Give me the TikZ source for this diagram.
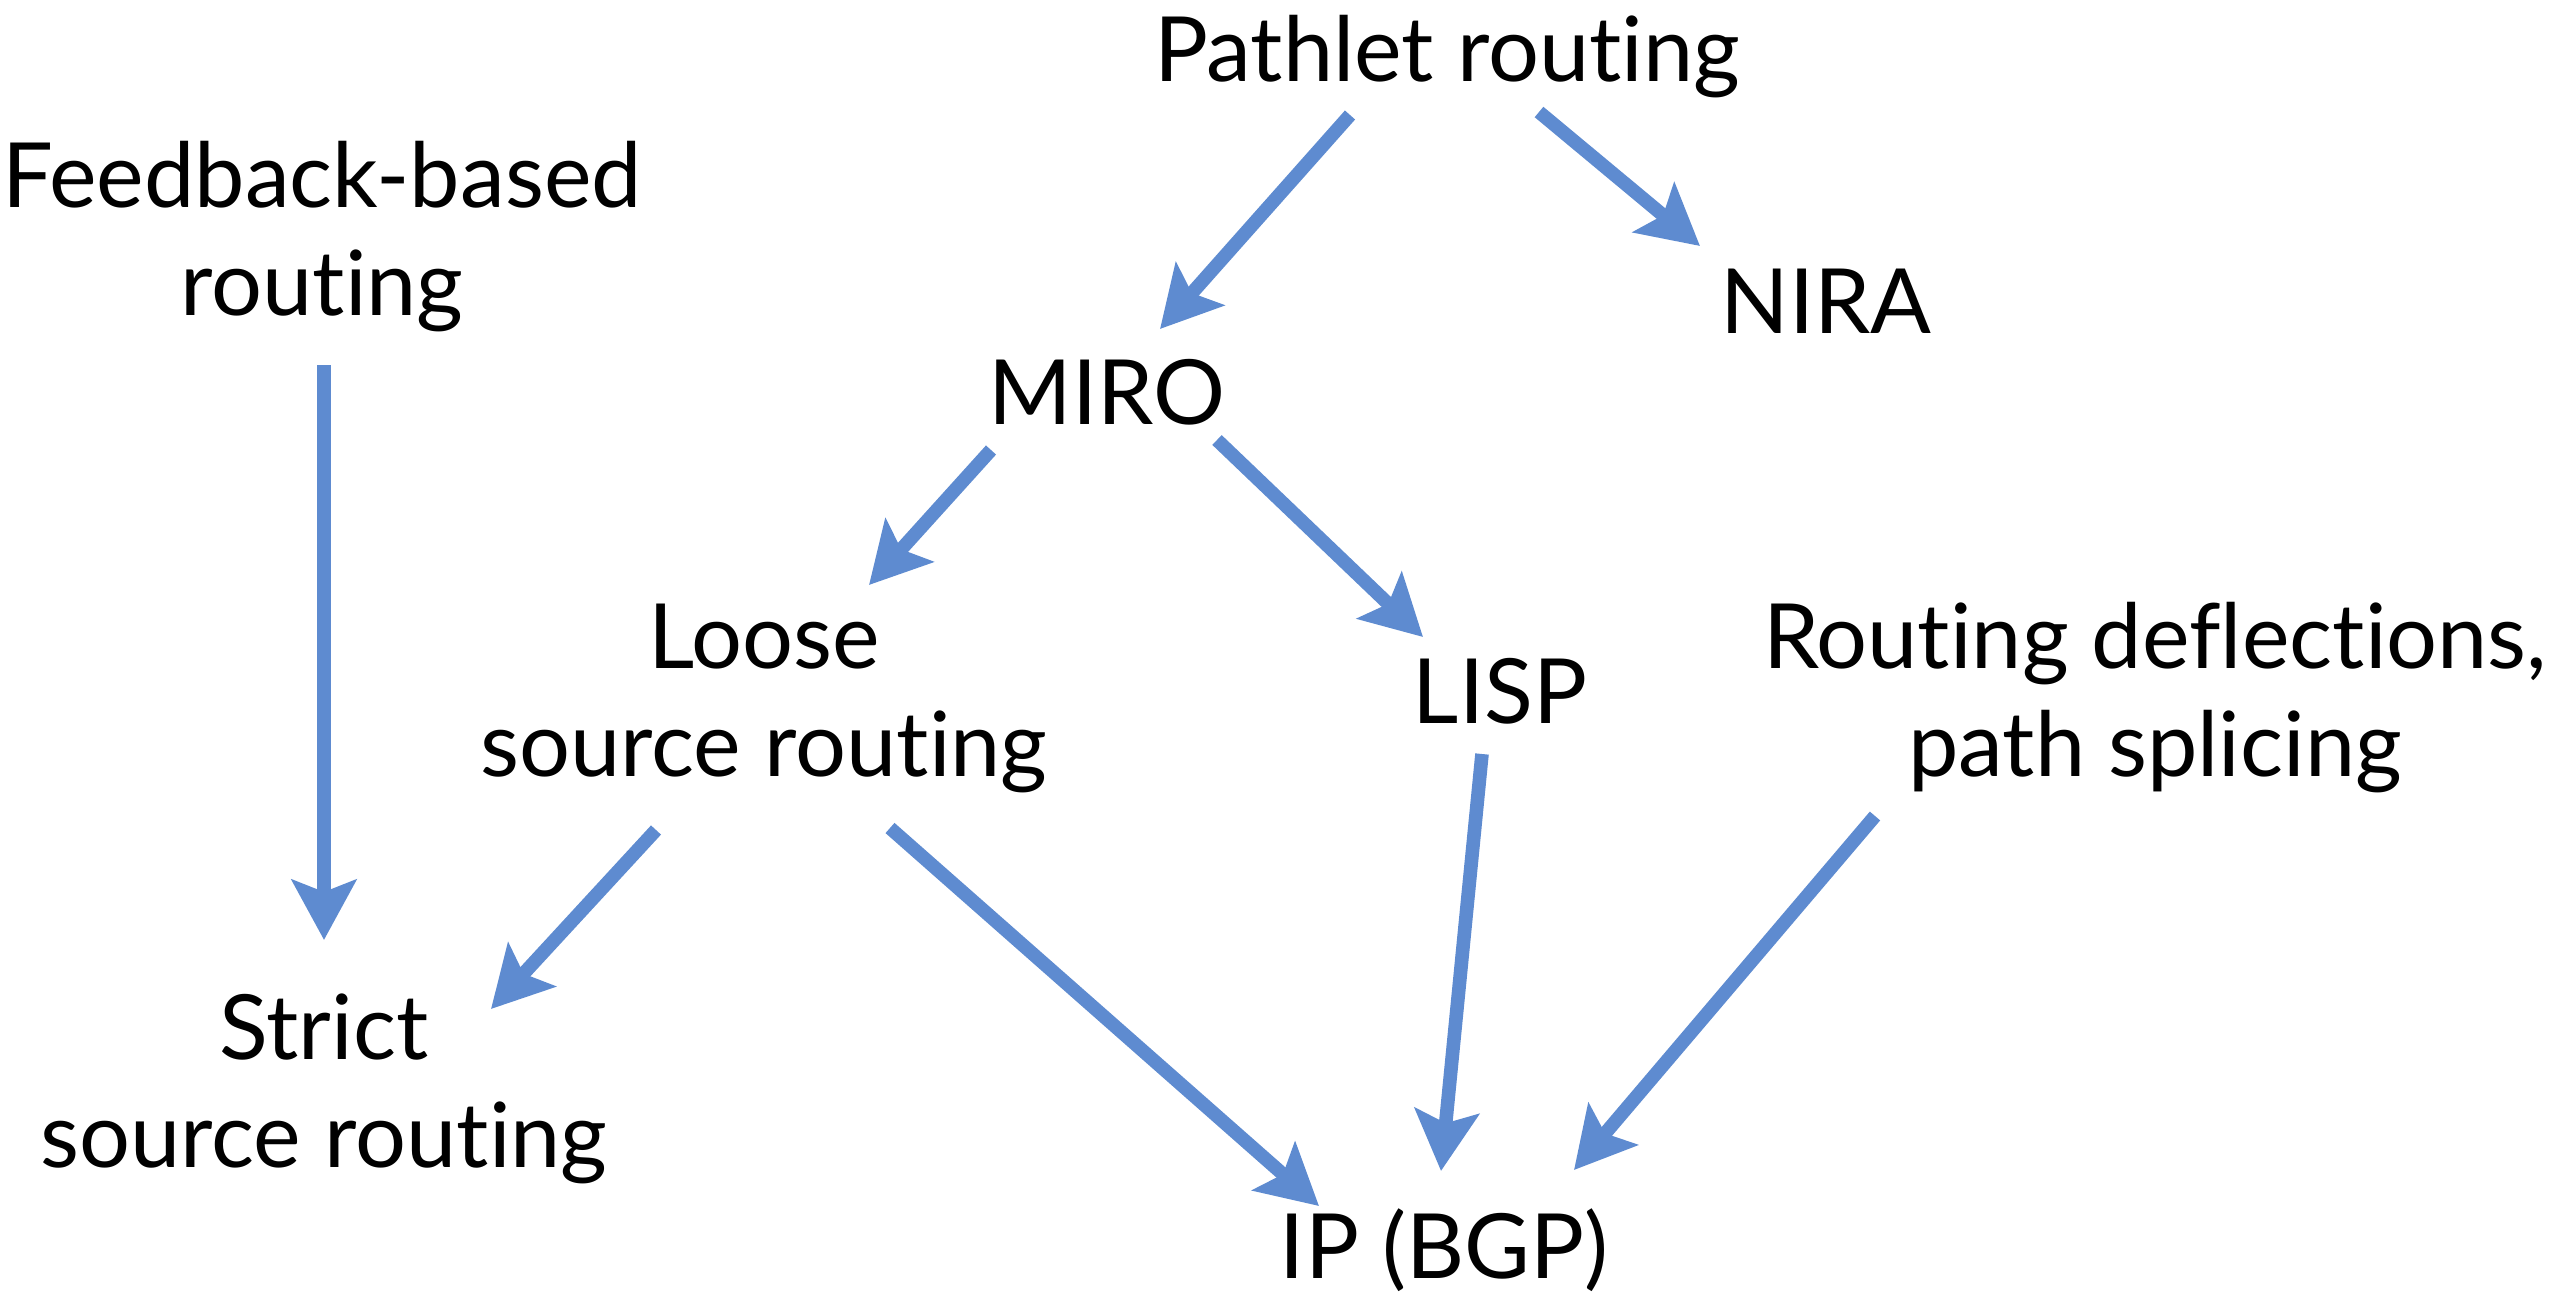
\documentclass[tikz,border=0pt]{standalone}
\usepackage{fontspec}
\setmainfont{Lato}[Ligatures={NoCommon,NoRequired,NoContextual}]
\usetikzlibrary{arrows.meta}
\definecolor{arrowblue}{RGB}{94,139,208}
\begin{document}
\begin{tikzpicture}[x=0.5pt,y=-0.5pt,
  lbl/.style={font=\fontsize{45}{54}\selectfont, align=center, inner sep=0pt, anchor=base},
  link/.style={draw=arrowblue, line width=6.8pt,
    -{Stealth[length=30pt,width=32pt,inset=6pt]}}]
\useasboundingbox (0,0) rectangle (2576,1300);

% labels (placed by the baseline of their last line)
\node[lbl] (pathlet)  at (1447,82)   {Pathlet routing};
\node[lbl] (feedback) at (322,315)   {Feedback-based\\routing};
\node[lbl] (nira)     at (1826,334)  {NIRA};
\node[lbl] (miro)     at (1107,424)  {MIRO};
\node[lbl] (loose)    at (764,776)   {Loose\\source routing};
\node[lbl] (lisp)     at (1500,723)  {LISP};
\node[lbl] (deflect)  at (2155,776)  {Routing deflections,\\path splicing};
\node[lbl] (strict)   at (324,1167)  {Strict\\source routing};
\node[lbl] (ip)       at (1444,1278) {IP (BGP)};

% connector end points
\coordinate (pathlet-l) at (1350,115);  \coordinate (miro-in)    at (1160,329);
\coordinate (pathlet-r) at (1539,112);  \coordinate (nira-in)    at (1700,246);
\coordinate (feedback-s) at (324,365);  \coordinate (strict-top) at (324,940);
\coordinate (miro-l) at (991,450);      \coordinate (loose-in)   at (869,585);
\coordinate (miro-r) at (1217,440);     \coordinate (lisp-in)    at (1423,637);
\coordinate (loose-l) at (656,830);     \coordinate (strict-in)  at (491,1009);
\coordinate (loose-r) at (890,828);     \coordinate (ip-l)       at (1319,1206);
\coordinate (lisp-s) at (1482,754);     \coordinate (ip-m)       at (1441,1171);
\coordinate (deflect-s) at (1875,816);  \coordinate (ip-r)       at (1574,1170);

% derivation arrows
\draw[link] (pathlet-l)  -- (miro-in);
\draw[link] (pathlet-r)  -- (nira-in);
\draw[link] (feedback-s) -- (strict-top);
\draw[link] (miro-l)     -- (loose-in);
\draw[link] (miro-r)     -- (lisp-in);
\draw[link] (loose-l)    -- (strict-in);
\draw[link] (loose-r)    -- (ip-l);
\draw[link] (lisp-s)     -- (ip-m);
\draw[link] (deflect-s)  -- (ip-r);
\end{tikzpicture}
\end{document}
